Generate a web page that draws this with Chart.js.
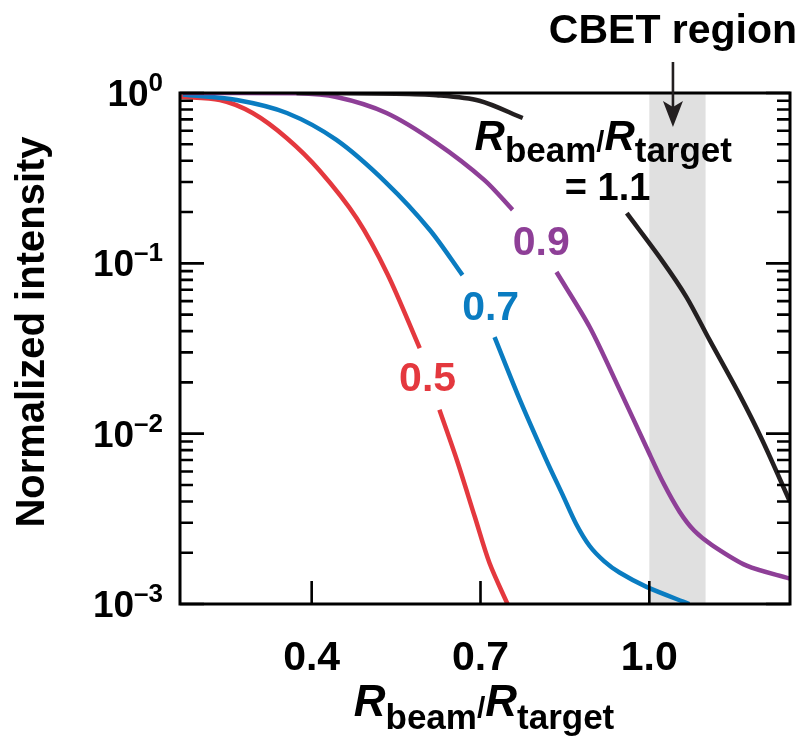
<!DOCTYPE html>
<html><head><meta charset="utf-8">
<script src="https://cdn.jsdelivr.net/npm/chart.js@4"></script>
<style>html,body{margin:0;padding:0;background:#fff}#wrap{width:805px;height:736px}</style>
</head><body><div id="wrap"><canvas id="c" width="805" height="736"></canvas></div>
<script>
// ---- data ----
const xTickValues = [0.4, 0.7, 1.0];
const yDecades = [1, 0.1, 0.01, 0.001];
const yExponents = ['0', '\u20131', '\u20132', '\u20133'];
const xRange = [0.166, 1.25];
const cbetRegion = [1.0, 1.1];
const curveLabels = ['1.1', '0.9', '0.7', '0.5'];

const x05 = [0.166, 0.237, 0.295, 0.356, 0.414, 0.480, 0.535, 0.592, 0.61, 0.627, 0.658, 0.690, 0.716, 0.748];
const y05 = [0.95, 0.91, 0.763, 0.543, 0.351, 0.184, 0.0861, 0.0318, null, 0.0138, 0.0070, 0.00324, 0.00174, 0.00100];

const x07 = [0.171, 0.267, 0.356, 0.444, 0.533, 0.610, 0.668, 0.70, 0.725, 0.770, 0.817, 0.846, 0.870, 0.894, 0.92, 0.947, 0.995, 1.071];
const y07 = [0.98, 0.91, 0.763, 0.530, 0.296, 0.157, 0.0853, null, 0.0369, 0.0158, 0.0070, 0.00437, 0.00295, 0.00219, 0.00178, 0.00153, 0.00126, 0.00100];

const x09 = [0.171, 0.373, 0.444, 0.533, 0.622, 0.707, 0.757, 0.80, 0.835, 0.894, 0.947, 0.995, 1.025, 1.054, 1.08, 1.112, 1.173, 1.25];
const y09 = [1.0, 0.995, 0.947, 0.763, 0.508, 0.308, 0.206, null, 0.0889, 0.0423, 0.0182, 0.0083, 0.00513, 0.00347, 0.00269, 0.00221, 0.00168, 0.00141];

const x11 = [0.373, 0.55, 0.622, 0.698, 0.775, 0.87, 0.960, 1.022, 1.066, 1.107, 1.160, 1.201, 1.25];
const y11 = [1.0, 0.99, 0.97, 0.90, 0.713, null, 0.197, 0.1045, 0.0634, 0.0355, 0.0170, 0.00912, 0.00398];

// ---- styles ----
const FONT = '"Liberation Sans", Arial, Helvetica, sans-serif';
const C_BLACK = '#231f20', C_PURPLE = '#8e3f97', C_BLUE = '#0a7cc1', C_RED = '#e4383e';

function pts(xs, ys){ return xs.map((x,i)=>({x:x, y:ys[i]})); }
function ds(label, xs, ys, color){
  return {label:label, data:pts(xs,ys), borderColor:color, backgroundColor:color, borderWidth:4.5,
    pointRadius:0, pointHoverRadius:0, fill:false, spanGaps:false, tension:0.3,
    borderCapStyle:'butt', borderJoinStyle:'round'};
}

function drawRich(ctx, parts, x, y, align){
  let w = 0;
  parts.forEach(p=>{ ctx.font = p.font; p.w = ctx.measureText(p.t).width; w += p.w + (p.gap||0); });
  let cx = align==='center' ? x - w/2 : (align==='right' ? x - w : x);
  ctx.textAlign = 'left'; ctx.textBaseline = 'alphabetic';
  parts.forEach(p=>{ ctx.font = p.font; ctx.fillText(p.t, cx, y + (p.dy||0)); cx += p.w + (p.gap||0); });
}

const deco = {
  id:'deco',
  beforeDatasetsDraw(chart){
    const ctx = chart.ctx, a = chart.chartArea, x = chart.scales.x;
    const x0 = x.getPixelForValue(cbetRegion[0]), x1 = x.getPixelForValue(cbetRegion[1]);
    ctx.save(); ctx.fillStyle = '#e0e0e0'; ctx.fillRect(x0, a.top, x1-x0, a.bottom-a.top); ctx.restore();
  },
  afterDraw(chart){
    const ctx = chart.ctx, a = chart.chartArea, xs = chart.scales.x, ys = chart.scales.y;
    ctx.save();
    ctx.strokeStyle = '#000'; ctx.fillStyle = '#000';
    // frame
    ctx.lineWidth = 3;
    ctx.strokeRect(a.left, a.top, a.right-a.left, a.bottom-a.top);
    // y ticks (inward, both sides)
    ctx.lineWidth = 2.6;
    ctx.beginPath();
    for (let e = 0; e >= -3; e--) {
      for (let m = 1; m <= 9; m++) {
        const v = m * Math.pow(10, e);
        if (v > 1.0001 || v < 0.000999) continue;
        const py = ys.getPixelForValue(v);
        const len = m === 1 ? 24 : 13;
        ctx.moveTo(a.left, py); ctx.lineTo(a.left + len, py);
        ctx.moveTo(a.right, py); ctx.lineTo(a.right - len, py);
      }
    }
    // x ticks (inward, bottom only)
    xTickValues.forEach(v=>{ const px = xs.getPixelForValue(v); ctx.moveTo(px, a.bottom); ctx.lineTo(px, a.bottom-23); });
    ctx.stroke();
    // y tick labels
    yDecades.forEach((v,i)=>{
      const py = ys.getPixelForValue(v);
      drawRich(ctx, [
        {t:'10', font:'bold 37px '+FONT},
        {t:yExponents[i], font:'bold 26px '+FONT, dy:-15}
      ], 163, py + 13, 'right');
    });
    // y title
    ctx.save();
    ctx.translate(44, 332); ctx.rotate(-Math.PI/2);
    ctx.font = 'bold 40px '+FONT; ctx.textAlign='center'; ctx.textBaseline='alphabetic';
    ctx.fillText('Normalized intensity', 0, 0);
    ctx.restore();
    // x title
    drawRich(ctx, [
      {t:'R', font:'italic bold 44px '+FONT},
      {t:'beam', font:'bold 35px '+FONT, dy:13},
      {t:'/', font:'bold 30px '+FONT, dy:2},
      {t:'R', font:'italic bold 44px '+FONT},
      {t:'target', font:'bold 35px '+FONT, dy:13}
    ], 484, 716, 'center');
    // curve labels
    const lab = (txt, color, xv, yv) => {
      ctx.fillStyle = color; ctx.font = 'bold 41px '+FONT; ctx.textAlign='center'; ctx.textBaseline='alphabetic';
      ctx.fillText(txt, xs.getPixelForValue(xv), ys.getPixelForValue(yv) + 15);
    };
    lab(curveLabels[3], C_RED, 0.606, 0.0218);
    lab(curveLabels[2], C_BLUE, 0.718, 0.0569);
    lab(curveLabels[1], C_PURPLE, 0.808, 0.137);
    ctx.fillStyle = '#000';
    drawRich(ctx, [
      {t:'R', font:'italic bold 42px '+FONT},
      {t:'beam', font:'bold 35px '+FONT, dy:12},
      {t:'/', font:'bold 29px '+FONT, dy:2},
      {t:'R', font:'italic bold 42px '+FONT},
      {t:'target', font:'bold 35px '+FONT, dy:12}
    ], xs.getPixelForValue(0.6895), ys.getPixelForValue(0.463), 'left');
    drawRich(ctx, [{t:'= '+curveLabels[0], font:'bold 38px '+FONT}], xs.getPixelForValue(0.9258), ys.getPixelForValue(0.2355), 'center');
    // CBET region + arrow
    const ax = xs.getPixelForValue(1.042);
    drawRich(ctx, [{t:'CBET region', font:'bold 41px '+FONT}], ax, 43, 'center');
    ctx.lineWidth = 2.6; ctx.strokeStyle = C_BLACK; ctx.fillStyle = C_BLACK;
    ctx.beginPath(); ctx.moveTo(ax, 62); ctx.lineTo(ax, 110); ctx.stroke();
    ctx.beginPath(); ctx.moveTo(ax, 127); ctx.lineTo(ax-10, 101); ctx.lineTo(ax, 107); ctx.lineTo(ax+10, 101); ctx.closePath(); ctx.fill();
    ctx.restore();
  }
};

new Chart(document.getElementById('c').getContext('2d'), {
  type:'line',
  data:{ datasets:[
    ds(curveLabels[0], x11, y11, C_BLACK),
    ds(curveLabels[1], x09, y09, C_PURPLE),
    ds(curveLabels[2], x07, y07, C_BLUE),
    ds(curveLabels[3], x05, y05, C_RED)
  ]},
  options:{
    responsive:false, animation:false, devicePixelRatio:1,
    layout:{padding:{top:93, right:15, left:0, bottom:0}},
    plugins:{legend:{display:false}, tooltip:{enabled:false}, title:{display:false}},
    events:[],
    scales:{
      x:{type:'linear', min:xRange[0], max:xRange[1],
        grid:{display:false, drawTicks:false}, border:{display:false},
        afterBuildTicks:(s)=>{ s.ticks = xTickValues.map(v=>({value:v})); },
        ticks:{callback:(v)=>Number(v).toFixed(1), font:{family:FONT, size:41, weight:'bold'}, color:'#000',
          padding:30, maxRotation:0, minRotation:0, autoSkip:false},
        afterFit:(s)=>{ s.height = 132; }
      },
      y:{type:'logarithmic', min:yDecades[3], max:yDecades[0],
        grid:{display:false, drawTicks:false}, border:{display:false}, ticks:{display:false},
        afterFit:(s)=>{ s.width = 180; }
      }
    }
  },
  plugins:[deco]
});
</script>
</body></html>
